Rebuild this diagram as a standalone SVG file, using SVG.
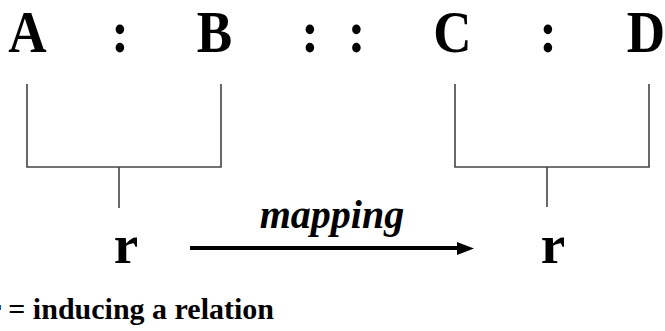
<svg xmlns="http://www.w3.org/2000/svg" width="665" height="331" viewBox="0 0 665 331">
<style>
.big{font-family:"Liberation Serif","Times New Roman",serif;font-weight:bold;font-size:59px;fill:#000;text-anchor:middle}
.r{font-family:"Liberation Serif","Times New Roman",serif;font-weight:bold;font-size:55px;fill:#000;text-anchor:middle}
.lbl{font-family:"Liberation Serif","Times New Roman",serif;font-style:italic;font-weight:bold;font-size:40px;fill:#000;text-anchor:middle}
.note{font-family:"Liberation Serif","Times New Roman",serif;font-weight:bold;font-size:30px;fill:#000}
.br{fill:none;stroke:#444;stroke-width:1.6}
</style>
<defs>
<marker id="ah" markerWidth="5" markerHeight="4" refX="4.5" refY="2" orient="auto" markerUnits="strokeWidth">
<path d="M0,0 L5,2 L0,4 z" fill="#000"/>
</marker>
</defs>
<g id="term-A"><text class="big" transform="translate(27.5,52) scale(0.9,1)">A</text></g>
<g id="colon-1"><text class="big" transform="translate(120,52) scale(0.9,1)">:</text></g>
<g id="term-B"><text class="big" transform="translate(214.5,52) scale(0.9,1)">B</text></g>
<g id="double-colon"><text class="big" transform="translate(310,52) scale(0.9,1)">:</text><text class="big" transform="translate(356.5,52) scale(0.9,1)">:</text></g>
<g id="term-C"><text class="big" transform="translate(452.5,52) scale(0.9,1)">C</text></g>
<g id="colon-2"><text class="big" transform="translate(548,52) scale(0.9,1)">:</text></g>
<g id="term-D"><text class="big" transform="translate(646,52) scale(0.9,1)">D</text></g>
<g id="r-left"><text class="r" x="126" y="263">r</text></g>
<g id="r-right"><text class="r" x="553" y="263">r</text></g>
<g id="connectors">
<path class="br" d="M27,84 V167 H221 V84 M119,167 V208"/>
<path class="br" d="M455,84 V167 H649 V84 M547,167 V207"/>
<line x1="190" y1="248" x2="460" y2="248" stroke="#000" stroke-width="4"/>
<polygon points="474,248.5 457,242 457,255" fill="#000"/>
<text class="lbl" x="332" y="228">mapping</text>
</g>
<g id="legend"><text class="note" x="-12" y="319">r = inducing a relation</text></g>
</svg>
